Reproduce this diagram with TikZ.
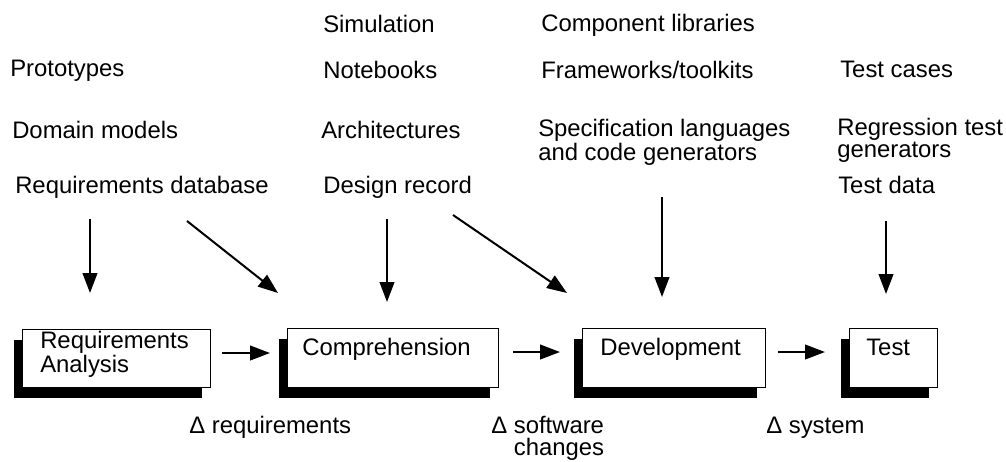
\documentclass[tikz,border=0pt]{standalone}
\usepackage{fontspec}
\setmainfont{Liberation Sans}
\usetikzlibrary{arrows.meta,shadows}
\begin{document}
\begin{tikzpicture}[x=0.75pt,y=-0.75pt,
  lbl/.style={anchor=base west, inner sep=0pt, align=left, font=\fontsize{17.9}{16.5}\selectfont},
  stage/.style={draw=black, line width=1.1pt, fill=white, anchor=north west, inner sep=0pt,
     drop shadow={shadow xshift=-6.75pt, shadow yshift=-7.5pt, fill=black, opacity=1}},
  flow/.style={line width=1.5pt, -{Triangle[length=15pt,width=11pt]}}]
\useasboundingbox (0,0) rectangle (1006,461);

% stage boxes
\node[stage, minimum width=141pt, minimum height=43.5pt] (ra) at (22,329) {};
\node[stage, minimum width=158.25pt, minimum height=44.25pt] (comp) at (287,328) {};
\node[stage, minimum width=137.25pt, minimum height=44.25pt] (dev) at (582,328) {};
\node[stage, minimum width=66pt, minimum height=44.25pt] (test) at (849,328) {};

% box texts (multi-line nodes: base = last line)
\node[lbl] (raT) at (40,372) {Requirements\\Analysis};
\node[lbl] (compT) at (302,355) {Comprehension};
\node[lbl] (devT) at (600,355) {Development};
\node[lbl] (testT) at (866,355) {Test};

% top labels
\node[lbl] (proto) at (10,76) {Prototypes};
\node[lbl] (domain) at (12,138) {Domain models};
\node[lbl] (reqdb) at (15,193) {Requirements database};
\node[lbl] (sim) at (323,32) {Simulation};
\node[lbl] (note) at (323,78) {Notebooks};
\node[lbl] (arch) at (321,138) {Architectures};
\node[lbl] (design) at (323,193) {Design record};
\node[lbl] (comlib) at (541,31) {Component libraries};
\node[lbl] (frame) at (541,78) {Frameworks/toolkits};
\node[lbl] (spec) at (538,160) {Specification languages\\and code generators};
\node[lbl] (tcases) at (840,77) {Test cases};
\node[lbl] (regr) at (837,157) {Regression test\\generators};
\node[lbl] (tdata) at (838,193) {Test data};

% bottom labels
\node[lbl] (dreq) at (189,433) {Δ requirements};
\node[lbl] (dsoft) at (491,455) {Δ software\\\phantom{Δ }changes};
\node[lbl] (dsys) at (766,433) {Δ system};

% arrow end points
\coordinate (a1s) at (90,219);  \coordinate (a1e) at (90,293);
\coordinate (a2s) at (187,221); \coordinate (a2e) at (278,293);
\coordinate (a3s) at (387,219); \coordinate (a3e) at (387,302);
\coordinate (a4s) at (453,215); \coordinate (a4e) at (567,293);
\coordinate (a5s) at (662,197); \coordinate (a5e) at (662,297);
\coordinate (a6s) at (886,221); \coordinate (a6e) at (886,294);
\coordinate (h1s) at (222,353); \coordinate (h1e) at (270,353);
\coordinate (h2s) at (513,352); \coordinate (h2e) at (560,352);
\coordinate (h3s) at (778,352); \coordinate (h3e) at (825,352);

\draw[flow] (a1s) -- (a1e);
\draw[flow] (a2s) -- (a2e);
\draw[flow] (a3s) -- (a3e);
\draw[flow] (a4s) -- (a4e);
\draw[flow] (a5s) -- (a5e);
\draw[flow] (a6s) -- (a6e);
\draw[flow] (h1s) -- (h1e);
\draw[flow] (h2s) -- (h2e);
\draw[flow] (h3s) -- (h3e);
\end{tikzpicture}
\end{document}
